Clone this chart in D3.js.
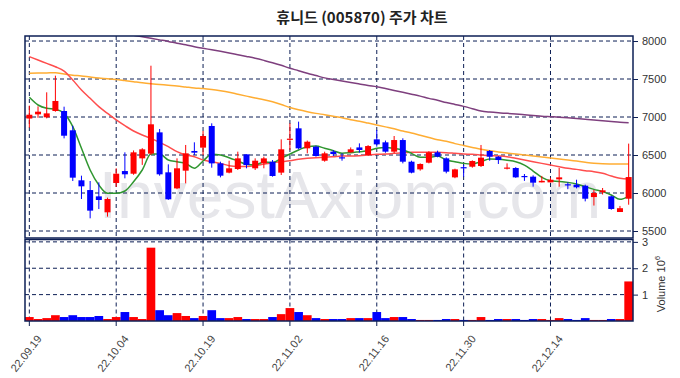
<!DOCTYPE html>
<html>
<head>
<meta charset="utf-8">
<script src="https://cdn.jsdelivr.net/npm/d3@7"></script>
<style>
  body { margin: 0; background: #fff; }
  svg { display: block; }
</style>
</head>
<body>
<div id="chart"></div>
<script>
// trading days shown in the chart
var dates = [
  "2022-09-19","2022-09-20","2022-09-21","2022-09-22","2022-09-23","2022-09-26","2022-09-27","2022-09-28","2022-09-29","2022-09-30",
  "2022-10-04","2022-10-05","2022-10-06","2022-10-07","2022-10-11","2022-10-12","2022-10-13","2022-10-14","2022-10-17","2022-10-18",
  "2022-10-19","2022-10-20","2022-10-21","2022-10-24","2022-10-25","2022-10-26","2022-10-27","2022-10-28","2022-10-31","2022-11-01",
  "2022-11-02","2022-11-03","2022-11-04","2022-11-07","2022-11-08","2022-11-09","2022-11-10","2022-11-11","2022-11-14","2022-11-15",
  "2022-11-16","2022-11-17","2022-11-18","2022-11-21","2022-11-22","2022-11-23","2022-11-24","2022-11-25","2022-11-28","2022-11-29",
  "2022-11-30","2022-12-01","2022-12-02","2022-12-05","2022-12-06","2022-12-07","2022-12-08","2022-12-09","2022-12-12","2022-12-13",
  "2022-12-14","2022-12-15","2022-12-16","2022-12-19","2022-12-20","2022-12-21","2022-12-22","2022-12-23","2022-12-26","2022-12-27"
];
var openP  = [6980,7035,6996,7079,7079,6825,6167,6039,5956,5746, 6132,6289,6254,6456,6518,6798,6272,6061,6294,6553,
              6597,6882,6390,6268,6316,6509,6325,6390,6412,6268, 6700,6851,6588,6610,6425,6544,6470,6535,6600,6500,
              6706,6667,6544,6697,6412,6311,6399,6535,6456,6206, 6340,6346,6355,6553,6478,6320,6329,6224,6215,6140,
              6140,6180,6115,6110,6096,5947,6010,5956,5750,5925];
var highP  = [7150,7140,7325,7544,7136,6886,6228,6158,6140,5939, 6325,6535,6560,6590,7675,6842,6377,6456,6632,6667,
              6816,6917,6412,6425,6544,6509,6456,6478,6434,6706, 6917,6939,6690,6623,6544,6566,6522,6600,6653,6630,
              6829,6690,6750,6720,6425,6390,6550,6557,6469,6320, 6370,6430,6632,6566,6487,6390,6340,6250,6233,6225,
              6200,6329,6140,6175,6110,6040,6066,5965,5830,6650];
var lowP   = [6860,6990,6982,7070,6719,6158,5921,5667,5789,5689, 6080,6193,6240,6370,6500,6228,5910,6050,6127,6500,
              6500,6333,6206,6259,6303,6325,6303,6325,6215,6237, 6566,6575,6522,6478,6412,6487,6425,6530,6531,6490,
              6610,6530,6522,6390,6259,6294,6390,6470,6259,6195, 6215,6333,6342,6425,6382,6310,6200,6160,6083,6140,
              6140,6083,6050,6060,5890,5835,5980,5780,5750,5846];
var closeP = [7030,7070,7048,7211,6754,6202,6088,5768,5908,5921, 6254,6246,6535,6575,6904,6246,5917,6325,6522,6531,
              6750,6390,6228,6325,6456,6368,6425,6456,6224,6575, 6715,6588,6675,6487,6522,6513,6460,6575,6566,6618,
              6640,6544,6697,6412,6268,6382,6535,6478,6281,6311, 6330,6421,6465,6478,6434,6335,6206,6215,6136,6160,
              6175,6206,6105,6075,5925,6000,6035,5790,5800,6210];
var volume = [150000,75000,110000,220000,150000,220000,150000,150000,190000,75000, 150000,340000,150000,75000,2780000,410000,220000,300000,190000,110000,
              190000,410000,110000,110000,150000,75000,75000,75000,150000,260000, 490000,340000,220000,110000,75000,75000,75000,110000,110000,110000,
              340000,110000,150000,150000,75000,40000,40000,40000,75000,75000, 40000,40000,150000,40000,75000,75000,75000,40000,75000,75000,
              40000,110000,75000,40000,110000,40000,40000,75000,75000,1500000];
// moving averages
var ma5   = [7259,7158,7114,7101,7048,6873,6588,6303,6105,5996, 5996,6026,6149,6303,6513,6513,6434,6412,6390,6325,
             6421,6509,6500,6465,6421,6377,6368,6408,6399,6456, 6513,6566,6610,6618,6588,6557,6522,6531,6544,6557,
             6588,6600,6588,6566,6522,6470,6470,6487,6434,6412, 6390,6382,6412,6447,6443,6430,6412,6368,6289,6206,
             6162,6153,6140,6118,6083,6048,6018,5974,5917,5960];
var ma20  = [7794,7750,7706,7662,7605,7487,7355,7246,7136,7048, 6961,6886,6816,6763,6719,6667,6610,6544,6500,6478,
             6434,6412,6390,6360,6350,6350,6360,6380,6399,6412, 6425,6443,6456,6465,6470,6478,6487,6487,6491,6500,
             6509,6512,6522,6531,6535,6535,6535,6535,6531,6522, 6513,6509,6500,6491,6487,6478,6456,6434,6412,6390,
             6368,6346,6325,6311,6294,6281,6259,6224,6193,6184];
var ma60  = [7575,7578,7580,7583,7565,7550,7540,7525,7512,7505, 7495,7480,7465,7450,7438,7428,7418,7408,7395,7382,
             7375,7362,7345,7325,7300,7275,7250,7228,7200,7165, 7125,7095,7070,7048,7030,7010,6990,6965,6945,6920,
             6895,6870,6845,6815,6790,6760,6730,6700,6680,6650, 6625,6600,6575,6555,6540,6525,6512,6500,6488,6475,
             6462,6448,6435,6420,6405,6392,6385,6383,6382,6382];
var ma120 = [8330,8310,8290,8270,8250,8230,8210,8190,8170,8150, 8125,8100,8075,8055,8035,8015,7995,7970,7950,7925,
             7904,7885,7865,7843,7820,7797,7773,7745,7715,7680, 7641,7610,7575,7545,7515,7495,7475,7455,7435,7415,
             7399,7375,7350,7325,7300,7275,7245,7220,7190,7165, 7140,7110,7080,7065,7055,7048,7040,7030,7020,7010,
             7004,6998,6990,6980,6970,6960,6950,6940,6930,6925];
var priceTicks = [5500, 6000, 6500, 7000, 7500, 8000];
var volumeTicks = [1, 2, 3];
var dateTicks = ["2022-09-19","2022-10-04","2022-10-19","2022-11-02","2022-11-16","2022-11-30","2022-12-14"];

var width = 680, height = 378;
var left = 25, right = 633;
var priceTop = 36, priceBottom = 238;
var volTop = 239.5, volBottom = 321;
var gridColor = "#0d1f55";
var frameColor = "#0d1f55";
var upColor = "#ff0000", downColor = "#0000ff";
var font = "'Liberation Sans', Arial, sans-serif";

var parse = d3.timeParse("%Y-%m-%d");
var fmt = d3.timeFormat("%y.%m.%d");

var data = dates.map(function(d, i) {
  return {date: d, o: openP[i], h: highP[i], l: lowP[i], c: closeP[i], v: volume[i]};
});

var x = d3.scaleBand().domain(dates).range([left, right]).padding(0);
var xc = function(d) { return x(d) + x.bandwidth() / 2; };
var y = d3.scaleLinear().domain([5408, 8066]).range([priceBottom, priceTop]);
var yv = d3.scaleLinear().domain([0, 3.09]).range([volBottom, volTop]);

var svg = d3.select('#chart').append('svg')
  .attr('width', width).attr('height', height)
  .style('font-family', font);

svg.append('defs').append('clipPath').attr('id', 'priceClip')
  .append('rect').attr('x', left).attr('y', priceTop)
  .attr('width', right - left).attr('height', priceBottom - priceTop);

// title
svg.append('text')
  .attr('x', 362).attr('y', 23)
  .attr('text-anchor', 'middle')
  .style('font-family', "'Noto Sans CJK KR', sans-serif")
  .style('font-size', '15px').style('font-weight', 'bold')
  .style('fill', '#222')
  .text('휴니드 (005870) 주가 차트');

// watermark
svg.append('text')
  .attr('x', 350).attr('y', 218)
  .attr('text-anchor', 'middle')
  .style('font-size', '66px')
  .style('fill', '#e6e6ea')
  .text('InvestAxiom.com');

// gridlines
var grid = svg.append('g')
  .attr('stroke', gridColor).attr('stroke-width', 1).attr('stroke-dasharray', '4,3').attr('fill', 'none');
grid.selectAll('.hp').data(priceTicks).enter().append('line')
  .attr('x1', left).attr('x2', right)
  .attr('y1', function(d) { return y(d); }).attr('y2', function(d) { return y(d); });
grid.selectAll('.hv').data(volumeTicks).enter().append('line')
  .attr('x1', left).attr('x2', right)
  .attr('y1', function(d) { return yv(d); }).attr('y2', function(d) { return yv(d); });
grid.selectAll('.vp').data(dateTicks).enter().append('line')
  .attr('x1', xc).attr('x2', xc).attr('y1', priceTop).attr('y2', priceBottom);
grid.selectAll('.vv').data(dateTicks).enter().append('line')
  .attr('x1', xc).attr('x2', xc).attr('y1', volTop).attr('y2', volBottom);

// moving averages
var plot = svg.append('g').attr('clip-path', 'url(#priceClip)');
var maSets = [
  {vals: ma120, color: '#7e3f7e'},
  {vals: ma60, color: '#ffad33'},
  {vals: ma20, color: '#ff4d4d'},
  {vals: ma5, color: '#2f962f'}
];
maSets.forEach(function(m) {
  var line = d3.line()
    .x(function(d, i) { return xc(dates[i]); })
    .y(function(d) { return y(d); })
    .curve(d3.curveMonotoneX);
  plot.append('path')
    .attr('d', line(m.vals))
    .attr('fill', 'none')
    .attr('stroke', m.color)
    .attr('stroke-width', 1.5);
});

// candles
var candle = plot.selectAll('.candle').data(data).enter().append('g');
candle.append('line')
  .attr('x1', function(d) { return xc(d.date); })
  .attr('x2', function(d) { return xc(d.date); })
  .attr('y1', function(d) { return y(d.h); })
  .attr('y2', function(d) { return y(d.l); })
  .attr('stroke', function(d) { return d.c >= d.o ? upColor : downColor; })
  .attr('stroke-width', 1);
var bodyW = 6;
candle.append('rect')
  .attr('x', function(d) { return xc(d.date) - bodyW / 2; })
  .attr('width', bodyW)
  .attr('y', function(d) { return y(Math.max(d.o, d.c)); })
  .attr('height', function(d) { return Math.max(1.2, Math.abs(y(d.o) - y(d.c))); })
  .attr('fill', function(d) { return d.c >= d.o ? upColor : downColor; });

// volume bars
svg.append('g').selectAll('rect').data(data).enter().append('rect')
  .attr('x', function(d) { return x(d.date); })
  .attr('width', x.bandwidth())
  .attr('y', function(d) { return yv(d.v / 1e6); })
  .attr('height', function(d) { return volBottom - yv(d.v / 1e6); })
  .attr('fill', function(d) { return d.c >= d.o ? upColor : downColor; });

// frames
svg.append('rect').attr('x', left).attr('y', priceTop)
  .attr('width', right - left).attr('height', priceBottom - priceTop)
  .attr('fill', 'none').attr('stroke', frameColor).attr('stroke-width', 1.5);
svg.append('rect').attr('x', left).attr('y', volTop)
  .attr('width', right - left).attr('height', volBottom - volTop)
  .attr('fill', 'none').attr('stroke', frameColor).attr('stroke-width', 1.5);

// right axes
var priceAxis = d3.axisRight(y).tickValues(priceTicks).tickSize(5).tickPadding(4).tickFormat(d3.format('d'));
var gA = svg.append('g').attr('transform', 'translate(' + right + ',0)').call(priceAxis);
var volAxis = d3.axisRight(yv).tickValues(volumeTicks).tickSize(5).tickPadding(4).tickFormat(d3.format('d'));
var gV = svg.append('g').attr('transform', 'translate(' + right + ',0)').call(volAxis);
[gA, gV].forEach(function(g) {
  g.select('.domain').remove();
  g.selectAll('line').attr('stroke', frameColor);
  g.selectAll('text').style('font-family', font).style('font-size', '11px').attr('fill', '#333');
});

svg.append('text')
  .attr('transform', 'translate(665,' + 284 + ') rotate(-90)')
  .attr('text-anchor', 'middle')
  .style('font-size', '11px').attr('fill', '#333')
  .call(function(t) {
    t.append('tspan').text('Volume  10');
    t.append('tspan').attr('dy', -5).style('font-size', '8px').text('6');
  });

// date axis
var dateAxis = d3.axisBottom(x).tickValues(dateTicks).tickSize(5).tickFormat(function(d) { return fmt(parse(d)); });
var gD = svg.append('g').attr('transform', 'translate(0,' + volBottom + ')').call(dateAxis);
gD.select('.domain').remove();
gD.selectAll('line').attr('stroke', frameColor);
gD.selectAll('text')
  .style('font-family', font).style('font-size', '11px').attr('fill', '#444')
  .attr('text-anchor', 'end')
  .attr('dy', 0).attr('y', 0)
  .attr('transform', 'translate(13,18) rotate(-52)');
</script>
</body>
</html>
